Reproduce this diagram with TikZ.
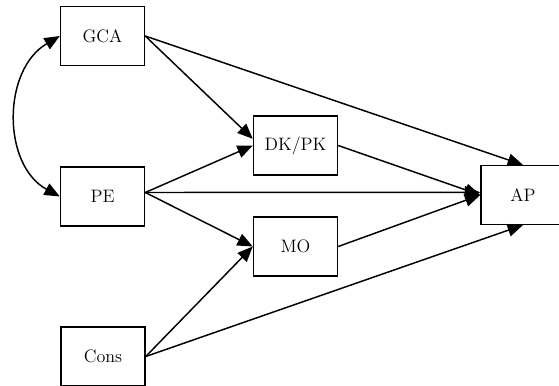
\documentclass[tikz,border=0pt]{standalone}
\usetikzlibrary{arrows.meta}
\begin{document}
\begin{tikzpicture}[x=0.75pt,y=-0.75pt,
  varbox/.style={draw, line width=1.1pt, minimum width=63pt, minimum height=44pt, inner sep=0pt, font=\fontsize{13.5}{15}\selectfont},
  edge/.style={line width=1.1pt, -{Triangle[length=11.5pt,width=9.5pt]}}]
\useasboundingbox (0,0) rectangle (559,385);
\node[varbox] (gca) at (102.5,36) {GCA};
\node[varbox] (pe) at (102.5,196.5) {PE};
\node[varbox] (cons) at (103,356.5) {Cons};
\node[varbox] (dk) at (295.5,145.5) {DK/PK};
\node[varbox] (mo) at (295.5,246.5) {MO};
\node[varbox] (ap) at (523,195) {AP};
\coordinate (peout) at ([yshift=3pt]pe.east);
\draw[line width=1.1pt, {Triangle[length=11.5pt,width=9.5pt]}-{Triangle[length=11.5pt,width=9.5pt]}] (gca.west) .. controls (2,70) and (2,165) .. (pe.west);
\draw[edge] (gca.east) -- ([yshift=5pt]dk.west);
\draw[edge] (gca.east) -- (ap.north);
\draw[edge] (peout) -- (dk.west);
\draw[edge] (peout) -- ([yshift=2pt]ap.west);
\draw[edge] (peout) -- (mo.west);
\draw[edge] (dk.east) -- (ap.west);
\draw[edge] (mo.east) -- (ap.west);
\draw[edge] (cons.east) -- (mo.west);
\draw[edge] (cons.east) -- (ap.south);
\end{tikzpicture}
\end{document}
